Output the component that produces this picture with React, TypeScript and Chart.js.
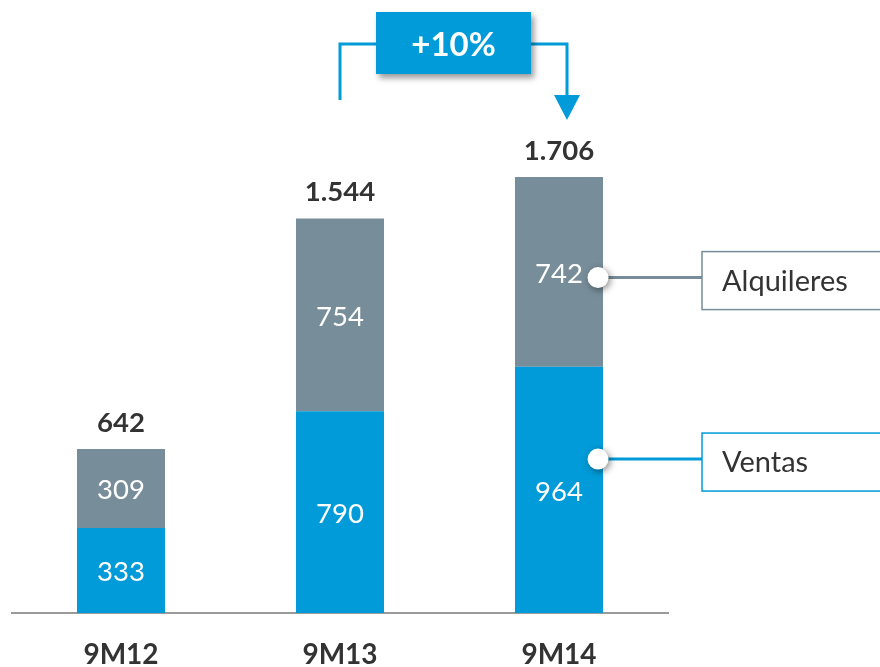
import { useEffect, useRef } from "react";
import { Chart, registerables } from "chart.js";

Chart.register(...registerables);

const categories = ["9M12", "9M13", "9M14"];
const ventas = [333, 790, 964];
const alquileres = [309, 754, 742];
const seriesNames = ["Ventas", "Alquileres"];
const growthLabel = "+10%";

const FONT = "Lato, 'Open Sans', sans-serif";
const BLUE = "#009bd8";
const GRAY = "#778d99";
const TEXT = "#333333";

const fmt = (v: number) => {
  const s = String(Math.round(v));
  return s.length > 3 ? s.slice(0, -3) + "." + s.slice(-3) : s;
};

const overlay = {
  id: "overlay",
  afterDatasetsDraw(chart: any) {
    const ctx: CanvasRenderingContext2D = chart.ctx;
    const m0 = chart.getDatasetMeta(0);
    const m1 = chart.getDatasetMeta(1);
    const xs = chart.scales.x;
    const ys = chart.scales.y;
    ctx.save();
    ctx.textAlign = "center";
    ctx.textBaseline = "middle";
    // inner values
    [m0, m1].forEach((m: any, di: number) => {
      m.data.forEach((bar: any, i: number) => {
        const p = bar.getProps(["x", "y", "base"], true);
        ctx.fillStyle = "#ffffff";
        ctx.font = `27.5px ${FONT}`;
        const v = chart.data.datasets[di].data[i] as number;
        ctx.fillText(fmt(v), p.x, (p.y + p.base) / 2 + 2);
      });
    });
    // totals
    m1.data.forEach((bar: any, i: number) => {
      const p = bar.getProps(["x", "y"], true);
      ctx.fillStyle = TEXT;
      ctx.font = `bold 27.5px ${FONT}`;
      ctx.fillText(fmt(ventas[i] + alquileres[i]), p.x, p.y - 26);
    });

    // legend callouts from last bar
    const last = categories.length - 1;
    const lb: any = m1.data[last];
    const right = lb.x + lb.width / 2;
    const cx = right - 5;
    const boxX = right + 99;
    const callouts = [
      { name: seriesNames[1], color: GRAY, y: ys.getPixelForValue(ventas[last] + alquileres[last] * 0.47) },
      { name: seriesNames[0], color: BLUE, y: ys.getPixelForValue(ventas[last] * 0.625) },
    ];
    callouts.forEach((c) => {
      ctx.strokeStyle = c.color;
      ctx.lineWidth = 3;
      ctx.beginPath();
      ctx.moveTo(cx, c.y);
      ctx.lineTo(boxX, c.y);
      ctx.stroke();
      ctx.lineWidth = 1.5;
      ctx.fillStyle = "#ffffff";
      ctx.fillRect(boxX, c.y - 26, 200, 58);
      ctx.strokeRect(boxX, c.y - 26, 200, 58);
      ctx.fillStyle = TEXT;
      ctx.font = `29px ${FONT}`;
      ctx.textAlign = "left";
      ctx.fillText(c.name, boxX + 20, c.y + 4);
      ctx.textAlign = "center";
      ctx.save();
      ctx.shadowColor = "rgba(0,0,0,0.45)";
      ctx.shadowBlur = 7;
      ctx.shadowOffsetX = 2;
      ctx.shadowOffsetY = 2;
      ctx.fillStyle = "#ffffff";
      ctx.beginPath();
      ctx.arc(cx, c.y, 10.5, 0, Math.PI * 2);
      ctx.fill();
      ctx.restore();
    });

    // growth arrow
    const x1 = xs.getPixelForValue(1);
    const x2 = xs.getPixelForValue(2) + 8;
    const lineY = 44;
    const mid = (x1 + x2) / 2;
    ctx.strokeStyle = BLUE;
    ctx.fillStyle = BLUE;
    ctx.lineWidth = 3;
    ctx.beginPath();
    ctx.moveTo(x1, 100);
    ctx.lineTo(x1, lineY);
    ctx.lineTo(x2, lineY);
    ctx.lineTo(x2, 96);
    ctx.stroke();
    ctx.beginPath();
    ctx.moveTo(x2 - 13, 95);
    ctx.lineTo(x2 + 13, 95);
    ctx.lineTo(x2, 120);
    ctx.closePath();
    ctx.fill();
    ctx.save();
    ctx.shadowColor = "rgba(0,0,0,0.4)";
    ctx.shadowBlur = 6;
    ctx.shadowOffsetX = 3;
    ctx.shadowOffsetY = 4;
    ctx.fillStyle = BLUE;
    ctx.fillRect(mid - 77.5, 12, 155, 62);
    ctx.restore();
    ctx.fillStyle = "#ffffff";
    ctx.font = `bold 33px ${FONT}`;
    ctx.fillText(growthLabel, mid, lineY + 1);
    ctx.restore();
  },
};

export default function App() {
  const ref = useRef<HTMLCanvasElement>(null);
  useEffect(() => {
    if (!ref.current) return;
    const chart = new Chart(ref.current, {
      type: "bar",
      data: {
        labels: categories,
        datasets: [
          { label: seriesNames[0], data: ventas, backgroundColor: BLUE, barPercentage: 0.402, categoryPercentage: 1 },
          { label: seriesNames[1], data: alquileres, backgroundColor: GRAY, barPercentage: 0.402, categoryPercentage: 1 },
        ],
      },
      options: {
        responsive: false,
        animation: false,
        devicePixelRatio: 1,
        layout: { padding: { top: 102, left: 11.5, right: 211.5, bottom: 0 } },
        plugins: { legend: { display: false }, tooltip: { enabled: false } },
        scales: {
          x: {
            stacked: true,
            grid: { display: false, drawTicks: false },
            border: { display: true, color: "#9a9a9a", width: 2 },
            ticks: { color: TEXT, font: { family: FONT, size: 28, weight: "bold" }, padding: 25 },
            afterFit: (s: any) => {
              s.height = 54;
            },
          },
          y: { stacked: true, display: false, min: 0, max: 2000 },
        },
      },
      plugins: [overlay],
    });
    return () => chart.destroy();
  }, []);
  return (
    <canvas
      ref={ref}
      width={880}
      height={667}
      style={{ position: "fixed", left: 0, top: 0, width: 880, height: 667 }}
    />
  );
}
